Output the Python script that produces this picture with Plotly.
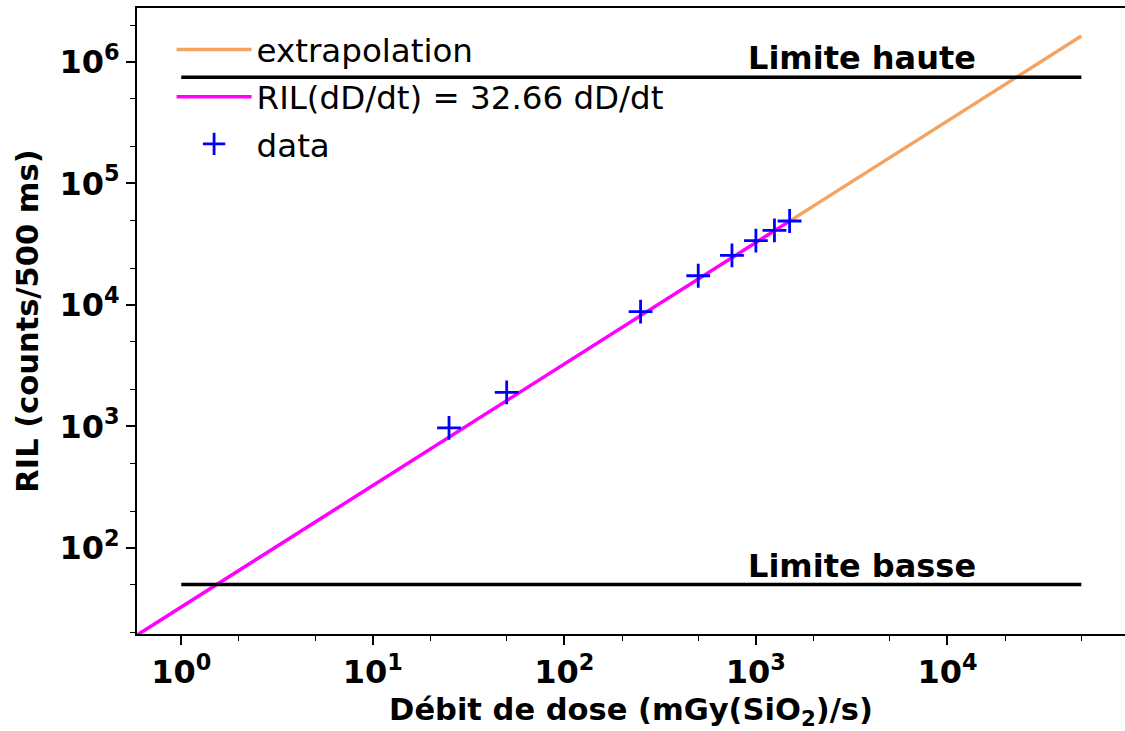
import math
import plotly.graph_objects as go

# ---- data ----
dose_rate = [25, 50, 250, 500, 750, 1000, 1250, 1500]          # mGy(SiO2)/s
ril_counts = [972, 1910, 8810, 17400, 25600, 33800, 41100, 49100]  # counts/500 ms

SLOPE = 32.66
fit_x = [0.5, 1500]
extrap_x = [1500, 50000]
fit_y = [SLOPE * v for v in fit_x]
extrap_y = [SLOPE * v for v in extrap_x]

limit_x = [1, 50000]
limit_high = 750000
limit_low = 50
limit_label_x = 3600

x_tick_vals = [1, 10, 100, 1000, 10000]
x_tick_text = ["10<sup>0</sup>", "10<sup>1</sup>", "10<sup>2</sup>", "10<sup>3</sup>", "10<sup>4</sup>"]
y_tick_vals = [100, 1000, 10000, 100000, 1000000]
y_tick_text = ["10<sup>2</sup>", "10<sup>3</sup>", "10<sup>4</sup>", "10<sup>5</sup>", "10<sup>6</sup>"]

FONT = "DejaVu Sans"

fig = go.Figure()

fig.add_trace(go.Scatter(x=extrap_x, y=extrap_y, mode="lines", name="extrapolation",
                         legendgroup="a", line=dict(color="#F4A460", width=3.5)))
fig.add_trace(go.Scatter(x=fit_x, y=fit_y, mode="lines", name="RIL(dD/dt) = 32.66 dD/dt",
                         legendgroup="b", line=dict(color="#FF00FF", width=3.5)))
fig.add_trace(go.Scatter(x=limit_x, y=[limit_high, limit_high], mode="lines", showlegend=False,
                         line=dict(color="black", width=3.5)))
fig.add_trace(go.Scatter(x=limit_x, y=[limit_low, limit_low], mode="lines", showlegend=False,
                         line=dict(color="black", width=3.5)))
fig.add_trace(go.Scatter(x=dose_rate, y=ril_counts, mode="markers", name="data",
                         legendgroup="c",
                         marker=dict(symbol="cross-thin", size=17, color="blue",
                                     line=dict(color="blue", width=2.8))))

for label, yv in [("Limite haute", limit_high), ("Limite basse", limit_low)]:
    fig.add_annotation(x=math.log10(limit_label_x), y=math.log10(yv), xref="x", yref="y",
                       text=f"<b>{label}</b>", showarrow=False, xanchor="center", yanchor="bottom",
                       yshift=-2, font=dict(family=FONT, size=32, color="black"))

tickfont = dict(family=FONT, size=32, color="black", weight="bold")
titlefont = dict(family=FONT, size=30.5, color="black", weight="bold")

fig.update_xaxes(type="log", range=[-0.231, 4.927], showgrid=False, zeroline=False,
                 showline=True, linecolor="black", linewidth=2, mirror=True, automargin=False,
                 ticks="outside", ticklen=9, tickwidth=1.5, tickcolor="black",
                 tickvals=x_tick_vals, ticktext=x_tick_text, tickfont=tickfont,
                 minor=dict(ticks="outside", ticklen=5, tickwidth=1.2, tickcolor="black", showgrid=False),
                 title=dict(text="Débit de dose (mGy(SiO<sub>2</sub>)/s)", font=titlefont, standoff=8))
fig.update_yaxes(type="log", range=[1.292, 6.444], showgrid=False, zeroline=False,
                 showline=True, linecolor="black", linewidth=2, mirror=False, automargin=False,
                 ticks="outside", ticklen=9, tickwidth=1.5, tickcolor="black",
                 tickvals=y_tick_vals, ticktext=y_tick_text, tickfont=tickfont,
                 minor=dict(ticks="outside", ticklen=5, tickwidth=1.2, tickcolor="black", showgrid=False),
                 title=dict(text="RIL (counts/500 ms)", font=titlefont, standoff=12))

fig.update_layout(
    width=1125, height=731,
    margin=dict(l=137, r=0, t=8, b=97),
    plot_bgcolor="white", paper_bgcolor="white",
    font=dict(family=FONT, color="black"),
    legend=dict(x=0.035, y=0.978, xanchor="left", yanchor="top",
                bgcolor="rgba(0,0,0,0)", borderwidth=0,
                font=dict(family=FONT, size=32.5, color="black"),
                itemwidth=75, traceorder="grouped", tracegroupgap=2),
)

fig.write_html("out.html", config={"displayModeBar": False},
               post_script="document.body.style.margin='0';")
